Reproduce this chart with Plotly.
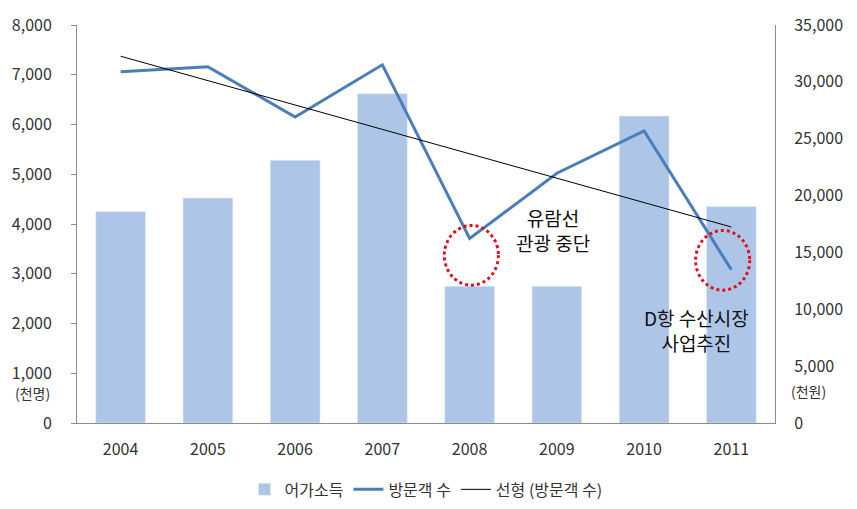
import numpy as np
import plotly.graph_objects as go

years = ["2004", "2005", "2006", "2007", "2008", "2009", "2010", "2011"]
income = [18600, 19780, 23100, 28960, 12030, 12030, 26990, 19030]   # 어가소득 (천원), right axis
visitors = [7060, 7160, 6150, 7200, 3710, 5020, 5870, 3080]         # 방문객 수 (천명), left axis
left_ticks = [0, 1000, 2000, 3000, 4000, 5000, 6000, 7000, 8000]
right_ticks = [0, 5000, 10000, 15000, 20000, 25000, 30000, 35000]

xi = np.arange(len(years))
slope, icpt = np.polyfit(xi, visitors, 1)
trend = list(icpt + slope * xi)

FONT = "Noto Sans CJK KR"
BLUE = "#4a7ebb"
BAR = "#adc6e8"
AX = "#8c8c8c"

fig = go.Figure()
fig.add_trace(go.Bar(x=years, y=income, name="어가소득", marker_color=BAR,
                     yaxis="y", width=0.57))
fig.add_trace(go.Scatter(x=years, y=visitors, name="방문객 수", mode="lines",
                         yaxis="y2", line=dict(color=BLUE, width=3)))
fig.add_trace(go.Scatter(x=years, y=trend, name="선형 (방문객 수)", mode="lines",
                         yaxis="y2", line=dict(color="#000000", width=1)))

fig.update_layout(
    width=857, height=509,
    margin=dict(l=72, r=82, t=20, b=86),
    paper_bgcolor="white", plot_bgcolor="white",
    font=dict(family=FONT, size=16, color="#333333"),
    xaxis=dict(showline=True, linecolor=AX, linewidth=1, ticks="",
               ticklabelstandoff=12, tickfont=dict(size=16)),
    # bars: income on the right-hand axis
    yaxis=dict(range=[0, 35000], tickvals=right_ticks, tickformat=",",
               side="right", showgrid=False, zeroline=False,
               showline=True, linecolor=AX, ticks="", ticklabelstandoff=15,
               tickfont=dict(size=16)),
    # lines: visitors on the left-hand axis (drawn on top)
    yaxis2=dict(range=[0, 8000], tickvals=left_ticks, tickformat=",",
                overlaying="y", side="left", showgrid=False, zeroline=False,
                showline=True, linecolor=AX, ticks="outside", ticklen=5,
                tickcolor=AX, ticklabelstandoff=16, tickfont=dict(size=16)),
    legend=dict(orientation="h", x=0.5, xanchor="center",
                yref="container", y=0.005, yanchor="bottom",
                font=dict(size=16), traceorder="normal", itemwidth=30),
    showlegend=True,
)

# dotted circles
for cx, cy in [(4.02, 3370), (6.9, 3270)]:
    fig.add_shape(type="circle", xref="x", yref="y2",
                  x0=cx - 0.31, x1=cx + 0.31, y0=cy - 600, y1=cy + 600,
                  line=dict(color="#e0101a", width=3, dash="dot"))

fig.add_annotation(x=4.95, y=3880, xref="x", yref="y2", showarrow=False,
                   text="유람선<br>관광 중단", font=dict(size=19, color="#111111"),
                   align="center")
fig.add_annotation(x=6.6, y=1870, xref="x", yref="y2", showarrow=False,
                   text="D항 수산시장<br>사업추진", font=dict(size=19, color="#111111"),
                   align="center")

fig.add_annotation(x=-0.064, y=0.047, xref="paper", yref="paper", showarrow=False,
                   text="(천명)", font=dict(size=14), xanchor="center",
                   borderpad=0)
fig.add_annotation(x=1.022, y=0.052, xref="paper", yref="paper", showarrow=False,
                   text="(천원)", font=dict(size=14), xanchor="left",
                   borderpad=0)

fig.write_html("out.html")
